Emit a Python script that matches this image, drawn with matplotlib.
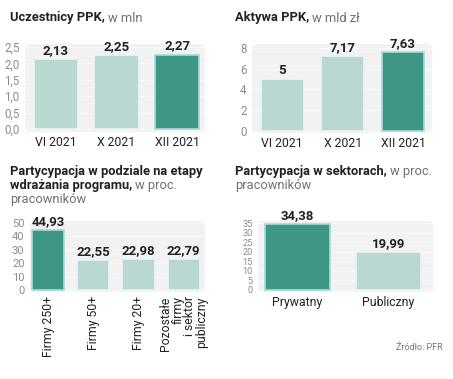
import matplotlib
matplotlib.use("Agg")
import matplotlib.pyplot as plt
from matplotlib.patches import FancyBboxPatch

W, H = 453, 379
DPI = 100

# ---- data ----
p1_cats = ["VI 2021", "X 2021", "XII 2021"]
p1_vals = [2.13, 2.25, 2.27]
p1_labels = ["2,13", "2,25", "2,27"]
p1_ticks = [0, 0.5, 1.0, 1.5, 2.0, 2.5]
p1_ticklabels = ["0,0", "0,5", "1,0", "1,5", "2,0", "2,5"]

p2_cats = ["VI 2021", "X 2021", "XII 2021"]
p2_vals = [5, 7.17, 7.63]
p2_labels = ["5", "7,17", "7,63"]
p2_ticks = [0, 2, 4, 6, 8]

p3_cats = ["Firmy 250+", "Firmy 50+", "Firmy 20+", "Pozostałe\nfirmy\ni sektor\npubliczny"]
p3_vals = [44.93, 22.55, 22.98, 22.79]
p3_labels = ["44,93", "22,55", "22,98", "22,79"]
p3_ticks = [0, 10, 20, 30, 40, 50]

p4_cats = ["Prywatny", "Publiczny"]
p4_vals = [34.38, 19.99]
p4_labels = ["34,38", "19,99"]
p4_ticks = [0, 5, 10, 15, 20, 25, 30, 35]

DARK = "#3e9686"
LIGHT = "#b9d8d2"
DARK_EDGE = "#a6dcd2"
LIGHT_EDGE = "#eef4f3"
BG = "#f2f2f2"
TICK = "#8c8c8c"
TXT = "#222222"
FONT = "Roboto"

fig = plt.figure(figsize=(W / DPI, H / DPI), dpi=DPI)
fig.patch.set_facecolor("white")


def px_axes(x0, y0, x1, y1):
    return fig.add_axes([x0 / W, 1 - y1 / H, (x1 - x0) / W, (y1 - y0) / H])


def panel(rect, xlim, ylim, cats, vals, labels, ticks, ticklabels, colors, edges,
          width, rot=False, tsize=8.3):
    ax = px_axes(*rect)
    ax.set_facecolor("none")
    ax.add_patch(FancyBboxPatch((0, 0), 1, 1, boxstyle="round,pad=0,rounding_size=0.04",
                                transform=ax.transAxes, facecolor=BG, edgecolor="none",
                                zorder=0, clip_on=False, mutation_aspect=1))
    for t in ticks:
        ax.axhline(t, color="#fafafa", lw=0.7, zorder=0.5)
    xs = list(range(len(vals)))
    ax.bar(xs, vals, width=width, color=colors, edgecolor=edges, linewidth=1.2, zorder=2)
    for x, v, l in zip(xs, vals, labels):
        ax.annotate(l, (x, v), xytext=(0, 1.5), textcoords="offset points", ha="center",
                    va="bottom", fontsize=9.5, fontweight="bold", color=TXT,
                    family=FONT, zorder=3)
    ax.set_xlim(*xlim)
    ax.set_ylim(*ylim)
    ax.set_yticks(ticks)
    ax.set_yticklabels(ticklabels, fontsize=tsize, color=TICK, family=FONT)
    ax.set_xticks(xs)
    if rot:
        ax.set_xticklabels([])
        for x, c in zip(xs, cats):
            ax.annotate(c, (x, 0), xycoords=("data", "axes fraction"), xytext=(0, -3),
                        textcoords="offset points", rotation=90, ha="center", va="top",
                        multialignment="right", fontsize=8.8, color=TXT, family=FONT,
                        linespacing=0.9, annotation_clip=False)
    else:
        ax.set_xticklabels(cats, fontsize=8.8, color=TXT, family=FONT)
    ax.tick_params(length=0, pad=3)
    ax.tick_params(axis="y", pad=4)
    for s in ax.spines.values():
        s.set_visible(False)
    return ax


panel((25, 44, 205, 132), (-0.51, 2.46), (-0.09, 2.59), p1_cats, p1_vals, p1_labels,
      p1_ticks, p1_ticklabels, [LIGHT, LIGHT, DARK], [LIGHT_EDGE, LIGHT_EDGE, DARK_EDGE], 0.73)
panel((252, 44, 432, 133), (-0.5, 2.48), (-0.19, 8.37), p2_cats, p2_vals, p2_labels,
      p2_ticks, [str(t) for t in p2_ticks], [LIGHT, LIGHT, DARK],
      [LIGHT_EDGE, LIGHT_EDGE, DARK_EDGE], 0.71)
panel((30, 221, 205, 292), (-0.4, 3.47), (-1.5, 51.5), p3_cats, p3_vals, p3_labels,
      p3_ticks, [str(t) for t in p3_ticks], [DARK, LIGHT, LIGHT, LIGHT],
      [DARK_EDGE, LIGHT_EDGE, LIGHT_EDGE, LIGHT_EDGE], 0.71, rot=True, tsize=8.0)
panel((258, 221, 433, 292), (-0.43, 1.49), (-1.05, 36.05), p4_cats, p4_vals, p4_labels,
      p4_ticks, [str(t) for t in p4_ticks], [DARK, LIGHT], [DARK_EDGE, LIGHT_EDGE], 0.71,
      tsize=6.6)

renderer = fig.canvas.get_renderer()

TS = 9.3


def title(x, y, bold, regular=None):
    t = fig.text(x / W, 1 - y / H, bold, fontsize=TS, fontweight="bold", color=TXT,
                 family=FONT, va="center", ha="left")
    if regular:
        bb = t.get_window_extent(renderer)
        fig.text((bb.x1 + 3) / W, 1 - y / H, regular, fontsize=TS, color="#707070",
                 family=FONT, va="center", ha="left")


title(10, 18, "Uczestnicy PPK,", "w mln")
title(235, 18, "Aktywa PPK,", "w mld zł")
title(10, 172, "Partycypacja w podziale na etapy")
title(10, 186, "wdrażania programu,", "w proc.")
fig.text(10 / W, 1 - 200 / H, "pracowników", fontsize=TS, color="#707070", family=FONT,
         va="center", ha="left")
title(235, 172, "Partycypacja w sektorach,", "w proc.")
fig.text(235 / W, 1 - 186 / H, "pracowników", fontsize=TS, color="#707070", family=FONT,
         va="center", ha="left")
fig.text(443 / W, 1 - 348 / H, "Źródło: PFR", fontsize=6.5, color="#777777", family=FONT,
         va="center", ha="right")

fig.savefig("out.png", dpi=DPI)
